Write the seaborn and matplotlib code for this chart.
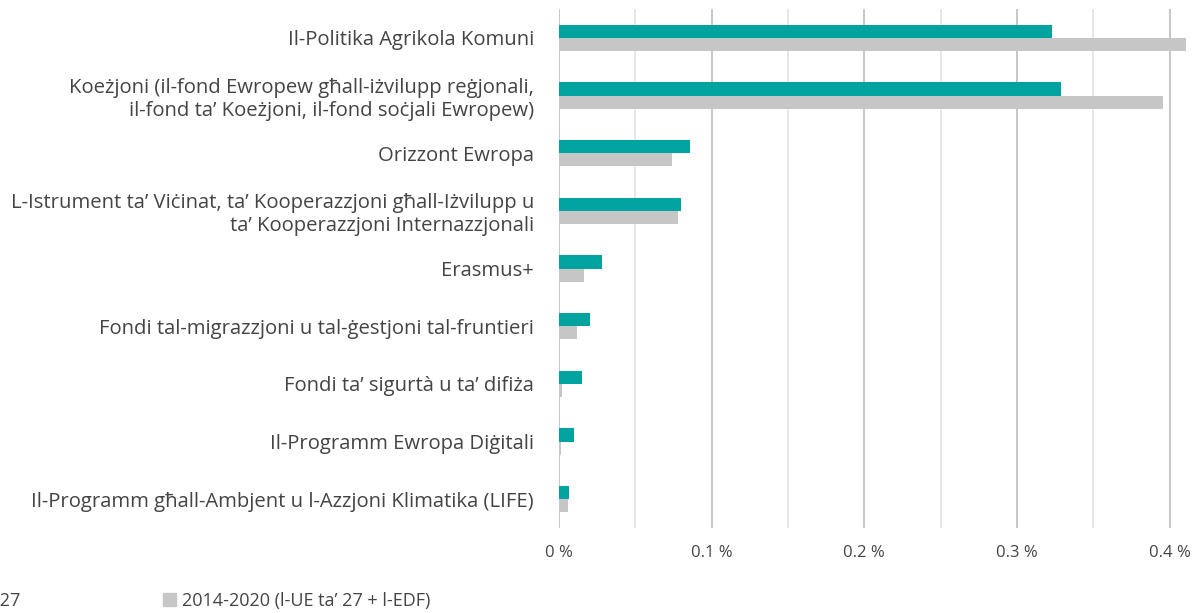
import numpy as np
import pandas as pd
import seaborn as sns
from matplotlib import pyplot as plt
from matplotlib.ticker import MultipleLocator, FuncFormatter

sns.set_theme(style="white")
plt.rcParams['font.family'] = ['Open Sans', 'DejaVu Sans']

# Programmes (top to bottom)
programmes = [
    "Il-Politika Agrikola Komuni",
    "Koeżjoni (il-fond Ewropew għall-iżvilupp reġjonali,\nil-fond ta’ Koeżjoni, il-fond soċjali Ewropew)",
    "Orizzont Ewropa",
    "L-Istrument ta’ Viċinat, ta’ Kooperazzjoni għall-Iżvilupp u\nta’ Kooperazzjoni Internazzjonali",
    "Erasmus+",
    "Fondi tal-migrazzjoni u tal-ġestjoni tal-fruntieri",
    "Fondi ta’ sigurtà u ta’ difiża",
    "Il-Programm Ewropa Diġitali",
    "Il-Programm għall-Ambjent u l-Azzjoni Klimatika (LIFE)",
]
# share of GNI, %
mff_2021 = [0.323, 0.329, 0.086, 0.080, 0.028, 0.020, 0.015, 0.010, 0.0065]
mff_2014 = [0.411, 0.3955, 0.074, 0.078, 0.0165, 0.012, 0.0022, 0.001, 0.006]

series_labels = ["2021-2027 l-UE ta’ 27", "2014-2020 (l-UE ta’ 27 + l-EDF)"]
colours = ["#00a39f", "#c6c6c6"]

df = pd.DataFrame({
    "Programm": programmes * 2,
    "Valur": mff_2021 + mff_2014,
    "Perjodu": [series_labels[0]] * len(programmes) + [series_labels[1]] * len(programmes),
})

fig = plt.figure(figsize=(11.97, 6.13), dpi=100)
ax = fig.add_axes([559 / 1197, 1 - 528 / 613, (1197 - 559) / 1197, 519 / 613])

# grid first so bars sit on top
for x in np.arange(0.05, 0.45, 0.1):
    ax.axvline(x, color="#e3e3e3", lw=1.2, zorder=0)
for x in np.arange(0.0, 0.45, 0.1):
    ax.axvline(x, color="#bdbdbd", lw=1.2, zorder=0)

sns.barplot(
    data=df, y="Programm", x="Valur", hue="Perjodu",
    palette=colours, orient="h", width=0.46, saturation=1,
    linewidth=0, legend=False, ax=ax, zorder=2,
)

ax.set_xlim(0, 0.418)
ax.set_ylim(len(programmes) - 0.5, -0.5)
ax.xaxis.set_major_locator(MultipleLocator(0.1))
ax.xaxis.set_major_formatter(FuncFormatter(lambda v, p: "0 %" if abs(v) < 1e-9 else f"{v:.1f} %"))
ax.set_xlabel("")
ax.set_ylabel("")
for s in ax.spines.values():
    s.set_visible(False)
ax.tick_params(axis="both", length=0, colors="#444444")
ax.tick_params(axis="x", labelsize=12, pad=12)
ax.tick_params(axis="y", labelsize=14.6, pad=18)
for t in ax.get_yticklabels():
    t.set_horizontalalignment("right")
    t.set_multialignment("right")

# legend along the bottom, first entry runs off the left edge
handles = [plt.Rectangle((0, 0), 1, 1, color=c) for c in colours]
fig.legend(handles, series_labels, loc="center left", bbox_to_anchor=(-0.159, 0.02),
           ncol=2, frameon=False, fontsize=13, handlelength=0.7, handleheight=0.7,
           handletextpad=0.35, columnspacing=7.9, labelcolor="#444444")

fig.savefig("out.png", dpi=100)
